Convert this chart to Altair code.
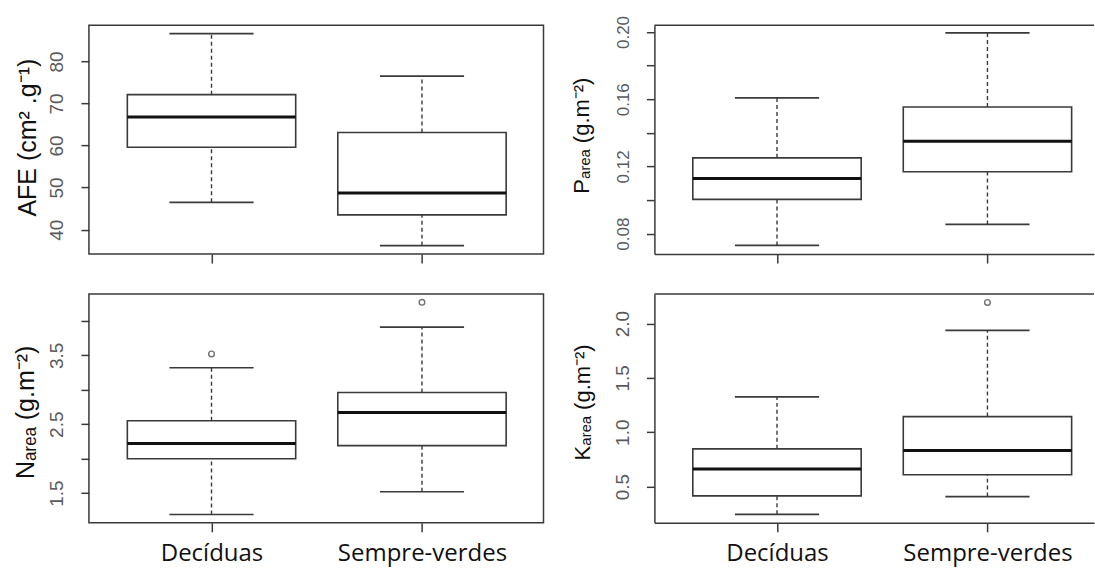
import altair as alt
import pandas as pd

# ---------------- data ----------------
groups = ["Decíduas", "Sempre-verdes"]
positions = [1, 2]

afe_min = [46.5, 36.2]
afe_q1 = [59.6, 43.5]
afe_med = [66.8, 48.7]
afe_q3 = [72.1, 63.1]
afe_max = [86.6, 76.5]

p_min = [0.0730, 0.0855]
p_q1 = [0.1004, 0.1168]
p_med = [0.1128, 0.1350]
p_q3 = [0.1251, 0.1554]
p_max = [0.1608, 0.1994]

n_min = [1.19, 1.52]
n_q1 = [2.00, 2.19]
n_med = [2.22, 2.67]
n_q3 = [2.55, 2.96]
n_max = [3.32, 3.91]
n_out_pos = [1, 2]
n_out_val = [3.52, 4.27]

k_min = [0.244, 0.407]
k_q1 = [0.414, 0.609]
k_med = [0.661, 0.831]
k_q3 = [0.847, 1.144]
k_max = [1.326, 1.938]
k_out_pos = [2]
k_out_val = [2.195]

afe_ticks = [40, 50, 60, 70, 80]
p_ticks = [0.08, 0.10, 0.12, 0.14, 0.16, 0.18, 0.20]
n_ticks = [1.5, 2.0, 2.5, 3.0, 3.5, 4.0]
k_ticks = [0.5, 1.0, 1.5, 2.0]

FRAME = "#3a3a3a"
LABEL_GRAY = "#5a5a5a"
X_LO = 0.4175
UNIT_PX = 210.65


def panel(mins, q1s, meds, q3s, maxs, out_pos, out_val, ydomain, yticks,
          ylabel_expr, ytitle, width, title_x, title_y, title_size,
          ylabel_size, bottom, right):
    df = pd.DataFrame({"grp": groups, "pos": positions, "lo": mins, "q1": q1s,
                       "med": meds, "q3": q3s, "hi": maxs})
    x_hi = X_LO + width / UNIT_PX
    xscale = alt.Scale(domain=[X_LO, x_hi], nice=False, zero=False)
    yscale = alt.Scale(domain=ydomain, nice=False, zero=False)

    xaxis = alt.Axis(
        values=positions, title=None, grid=False,
        labels=bottom,
        labelExpr="datum.value == 1 ? 'Decíduas' : 'Sempre-verdes'",
        labelFont="Open Sans", labelFontSize=24, labelColor="#111111",
        labelPadding=10, labelFlush=False, labelOverlap=False,
        tickSize=9, tickColor=FRAME, tickWidth=1.5,
        domain=right, domainColor=FRAME, domainWidth=1.5,
    )
    yaxis = alt.Axis(
        values=yticks, title=ytitle, grid=False,
        labelExpr=ylabel_expr, labelAngle=270, labelAlign="center",
        labelBaseline="alphabetic", labelPadding=18,
        labelFont="Liberation Sans", labelFontSize=ylabel_size,
        labelColor=LABEL_GRAY, labelFlush=False, labelOverlap=False,
        tickSize=8, tickColor=FRAME, tickWidth=1.5,
        domain=right, domainColor=FRAME, domainWidth=1.5,
        titleFont="Liberation Sans", titleFontSize=title_size,
        titleFontWeight="normal", titleColor="#111111",
        titleAngle=270, titleBaseline="alphabetic", titleAlign="center",
        titleX=title_x, titleY=title_y,
    )

    def X(field):
        return alt.X(field, type="quantitative", scale=xscale, axis=xaxis)

    def Y(field):
        return alt.Y(field, type="quantitative", scale=yscale, axis=yaxis)

    base = alt.Chart(df).transform_calculate(
        left="datum.pos - 0.4", right="datum.pos + 0.4",
        capl="datum.pos - 0.2", capr="datum.pos + 0.2",
    )
    dash = dict(strokeDash=[4, 3], color=FRAME, strokeWidth=1.4)
    w_up = base.mark_rule(**dash).encode(x=X("pos"), y=Y("q3"), y2="hi:Q")
    w_lo = base.mark_rule(**dash).encode(x=X("pos"), y=Y("lo"), y2="q1:Q")
    cap_hi = base.mark_rule(color=FRAME, strokeWidth=1.7).encode(
        x=X("capl"), x2="capr:Q", y=Y("hi"))
    cap_lo = base.mark_rule(color=FRAME, strokeWidth=1.7).encode(
        x=X("capl"), x2="capr:Q", y=Y("lo"))
    box = base.mark_rect(fill="white", stroke=FRAME, strokeWidth=1.6).encode(
        x=X("left"), x2="right:Q", y=Y("q1"), y2="q3:Q")
    med = base.mark_rule(color="#111111", strokeWidth=3).encode(
        x=X("left"), x2="right:Q", y=Y("med"))
    layers = [w_up, w_lo, cap_hi, cap_lo, box, med]
    if out_pos:
        odf = pd.DataFrame({"pos": out_pos, "val": out_val})
        layers.append(
            alt.Chart(odf).mark_point(shape="circle", filled=False, size=32,
                                      color=FRAME, strokeWidth=1.4)
            .encode(x=X("pos"), y=Y("val")))
    if right:
        top = alt.Chart(pd.DataFrame({"k": [0]})).mark_rule(
            color=FRAME, strokeWidth=1.5).encode(
            x=alt.value(0), x2=alt.value(width), y=alt.value(0))
        layers.append(top)
    ch = alt.layer(*layers).properties(width=width, height=229)
    if right:
        ch = ch.properties(view=alt.ViewBackground(strokeOpacity=0))
    else:
        ch = ch.properties(view=alt.ViewBackground(stroke=FRAME, strokeWidth=1.5))
    return ch


p1 = panel(afe_min, afe_q1, afe_med, afe_q3, afe_max, [], [],
           [34.2, 88.6], afe_ticks, "format(datum.value, 'd')",
           "AFE (cm² .g⁻¹)", 455, -53, 112, 25, 19, False, False)
p2 = panel(p_min, p_q1, p_med, p_q3, p_max, [], [],
           [0.0679, 0.2040], p_ticks,
           "round(datum.value * 100) % 4 == 0 ? format(datum.value, '.2f') : ''",
           "Pₐᵣₑₐ (g.m⁻²)", 440, -66, 110, 22, 17, False, True)
p3 = panel(n_min, n_q1, n_med, n_q3, n_max, n_out_pos, n_out_val,
           [1.07, 4.39], n_ticks,
           "round(datum.value * 2) % 2 == 1 ? format(datum.value, '.1f') : ''",
           "Nₐᵣₑₐ (g.m⁻²)", 455, -55, 118, 25, 19, True, False)
p4 = panel(k_min, k_q1, k_med, k_q3, k_max, k_out_pos, k_out_val,
           [0.166, 2.273], k_ticks, "format(datum.value, '.1f')",
           "Kₐᵣₑₐ (g.m⁻²)", 440, -65, 108, 22, 19, True, True)

chart = alt.concat(p1, p2, p3, p4, columns=2, spacing={"row": 40, "column": 111},
                   bounds="flush").properties(
    padding={"left": 13, "top": 15, "right": 0, "bottom": 0}
).configure_view(stroke=FRAME, strokeWidth=1.5).configure(background="white")

chart.save("out.html", embed_options={"renderer": "svg", "actions": False})
